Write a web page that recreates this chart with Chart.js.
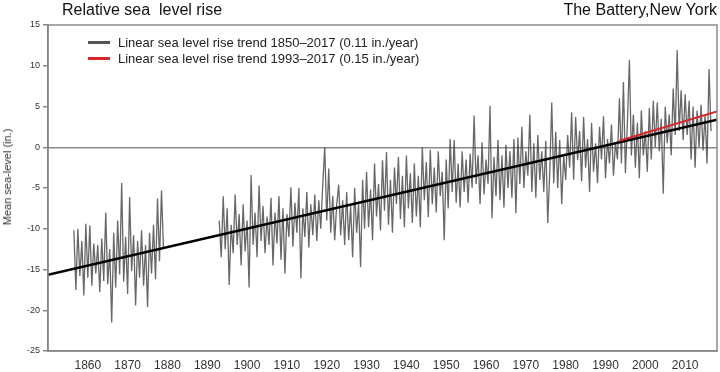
<!DOCTYPE html>
<html>
<head>
<meta charset="utf-8">
<script src="https://cdn.jsdelivr.net/npm/chart.js@4.4.1/dist/chart.umd.min.js"></script>
<style>
  body { margin: 0; background: #fff; }
  #wrap { position: relative; width: 720px; height: 372px; font-family: "Liberation Sans", Arial, sans-serif; }
  #chart { position: absolute; left: 0; top: 0; }
  .ttl { position: absolute; top: 1px; font-size: 16px; color: #111; white-space: nowrap; }
  #legend { position: absolute; left: 88px; top: 35px; font-size: 13px; color: #222; }
  #legend div { height: 15.5px; line-height: 15.5px; white-space: nowrap; }
  #legend span { display: inline-block; width: 22px; height: 3px; vertical-align: middle; margin-right: 8px; margin-top: -2px; }
  #ytitle { position: absolute; left: 7px; top: 177px; transform: translate(-50%, -50%) rotate(-90deg); font-size: 11px; color: #333; white-space: nowrap; }
</style>
</head>
<body>
<div id="wrap">
  <canvas id="chart" width="720" height="372"></canvas>
  <div class="ttl" style="left:62px">Relative sea&nbsp; level rise</div>
  <div class="ttl" style="right:3px">The Battery,New York</div>
  <div id="ytitle">Mean sea-level (in.)</div>
  <div id="legend"></div>
</div>
<script>
// monthly record, sampled every half year (inches)
const step = 0.5;
const obsStart1 = 1856.5;
const obs1 = [
  -10.2, -17.5, -10.0, -15.8, -11.5, -18.2, -9.4, -16.0, -9.6, -17.0,
  -11.8, -15.5, -12.0, -17.8, -11.2, -16.4, -8.0, -16.8, -12.5, -21.5,
  -10.5, -17.2, -9.0, -15.6, -4.4, -16.5, -11.0, -18.0, -6.1, -15.2,
  -10.8, -19.4, -11.5, -16.0, -10.2, -17.0, -12.0, -19.6, -10.5, -15.5,
  -9.5, -16.2, -6.3, -14.0, -5.3, -12.5
];
const obsStart2 = 1893.0;
const obs2 = [
  -9.0, -13.5, -6.0, -12.5, -7.5, -16.9, -9.5, -13.0, -5.8, -12.0,
  -8.2, -14.5, -7.0, -12.8, -9.0, -17.2, -3.4, -12.0, -8.0, -13.5,
  -4.7, -11.5, -7.2, -13.0, -8.5, -12.0, -6.2, -14.5, -8.0, -11.8,
  -6.0, -13.8, -7.5, -15.5, -8.2, -11.0, -4.9, -12.2, -6.8, -10.5,
  -5.0, -16.1, -7.5, -11.0, -5.5, -12.3, -7.0, -10.8, -5.8, -11.5,
  -6.5, -10.0, -4.5, 0.0, -9.0, -2.6, -10.5, -6.0, -11.4, -7.0,
  -4.6, -10.8, -6.5, -12.0, -5.5, -11.4, -7.2, -13.5, -5.0, -10.5,
  -7.0, -14.7, -4.0, -10.0, -3.0, -9.8, -5.2, -11.4, -2.0, -8.5,
  -4.5, -10.2, -1.6, -7.8, -0.6, -9.5, -4.0, -10.5, -2.5, -7.0,
  -1.2, -8.8, -3.5, -9.8, -1.0, -7.5, -3.2, -9.3, -2.0, -8.5,
  -3.5, -9.8, 0.0, -6.5, -1.8, -8.6, -0.3, -7.0, -2.5, -8.0,
  -0.5, -6.0, -3.0, -11.4, -1.5, -7.5, 1.0, -5.5, 0.9, -6.8,
  -2.0, -7.4, -0.5, -5.5, -1.5, -6.8, -0.8, -5.0, 3.9, -4.5,
  -1.0, -7.0, 0.6, -5.8, -1.5, -4.5, 5.1, -8.7, -1.2, -6.0,
  0.9, -6.5, -1.0, -7.4, 0.3, -5.0, -0.5, -6.2, 1.0, -8.1,
  1.2, -4.5, 2.5, -5.0, -0.5, -3.5, 4.0, -5.5, 0.5, -6.2,
  1.5, -4.0, -0.5, -5.5, 0.8, -9.3, -3.0, 5.5, -4.4, 1.9,
  -5.0, 0.9, -7.0, -1.0, -4.0, 1.5, -2.5, 4.3, -4.0, 3.7,
  -1.6, 2.0, -4.2, 3.7, -2.5, 1.0, -5.5, 3.0, -3.0, 0.5,
  -4.4, 2.5, -1.5, 3.8, -3.8, 1.0, -2.0, 2.8, -3.5, 0.5,
  -1.5, 6.0, -2.0, 8.0, -3.2, 3.0, 10.7, -1.0, 4.0, -2.5,
  3.0, -3.8, 4.5, -1.0, 2.0, -3.0, 4.8, -1.5, 5.7, 0.0,
  5.5, -0.5, 3.5, -5.7, 5.0, 0.5, 4.0, -1.0, 7.2, 1.5,
  11.9, 2.0, 7.0, 0.9, 6.5, 1.5, 5.7, -1.5, 5.0, -2.5,
  4.5, 0.0, 5.2, -0.4, 4.0, -2.0, 9.6, 2.0
];

// linear trends
const trendYears = [1850, 2018];
const trendValues = [-15.65, 3.38];
const recentYears = [1993.5, 2018];
const recentValues = [0.8, 4.4];

const legendLabels = [
  'Linear sea level rise trend 1850\u20132017 (0.11 in./year)',
  'Linear sea level rise trend 1993\u20132017 (0.15 in./year)'
];
const legendColors = ['#555555', '#d9262b'];

const xTicks = [1860, 1870, 1880, 1890, 1900, 1910, 1920, 1930, 1940, 1950, 1960, 1970, 1980, 1990, 2000, 2010];

const observed = [];
obs1.forEach((v, i) => observed.push({ x: obsStart1 + i * step, y: v }));
observed.push({ x: 1886, y: null });
obs2.forEach((v, i) => observed.push({ x: obsStart2 + i * step, y: v }));

const pairs = (xs, ys) => xs.map((x, i) => ({ x: x, y: ys[i] }));

document.getElementById('legend').innerHTML = legendLabels.map((t, i) =>
  '<div><span style="background:' + legendColors[i] + '"></span>' + t + '</div>').join('');

const frame = {
  id: 'frame',
  afterDraw(chart) {
    const a = chart.chartArea, c = chart.ctx;
    c.save();
    c.strokeStyle = '#8a8a8a';
    c.lineWidth = 1.5;
    c.strokeRect(a.left, a.top, a.right - a.left, a.bottom - a.top);
    c.restore();
  }
};

new Chart(document.getElementById('chart'), {
  type: 'line',
  data: {
    datasets: [
      {
        data: observed,
        borderColor: 'rgba(65,65,65,0.8)',
        borderWidth: 1.3,
        pointRadius: 0,
        spanGaps: false,
        order: 3
      },
      {
        data: pairs(trendYears, trendValues),
        borderColor: '#000',
        borderWidth: 2.5,
        pointRadius: 0,
        order: 2
      },
      {
        data: pairs(recentYears, recentValues),
        borderColor: '#d9262b',
        borderWidth: 2,
        pointRadius: 0,
        order: 1
      }
    ]
  },
  options: {
    responsive: false,
    animation: false,
    layout: { padding: { top: 25, right: 3, left: 0, bottom: 0 } },
    plugins: { legend: { display: false }, tooltip: { enabled: false } },
    scales: {
      x: {
        type: 'linear',
        min: 1850,
        max: 2018,
        afterBuildTicks: s => { s.ticks = xTicks.map(v => ({ value: v })); },
        afterFit: s => { s.height = 21; },
        grid: { display: false, drawTicks: false },
        border: { color: '#777', width: 1.5 },
        ticks: {
          color: '#333',
          padding: 7,
          maxRotation: 0,
          font: { family: 'Liberation Sans', size: 12 },
          callback: v => String(v)
        }
      },
      y: {
        min: -25,
        max: 15,
        afterFit: s => { s.width = 48; },
        grid: {
          color: c => (c.tick && c.tick.value === 0 ? '#8a8a8a' : 'rgba(0,0,0,0)'),
          lineWidth: 1.5,
          tickColor: '#8a8a8a',
          tickLength: 5
        },
        border: { color: '#777', width: 1.5 },
        ticks: {
          stepSize: 5,
          color: '#333',
          padding: 3,
          font: { family: 'Liberation Sans', size: 9 }
        }
      }
    }
  },
  plugins: [frame]
});
</script>
</body>
</html>
